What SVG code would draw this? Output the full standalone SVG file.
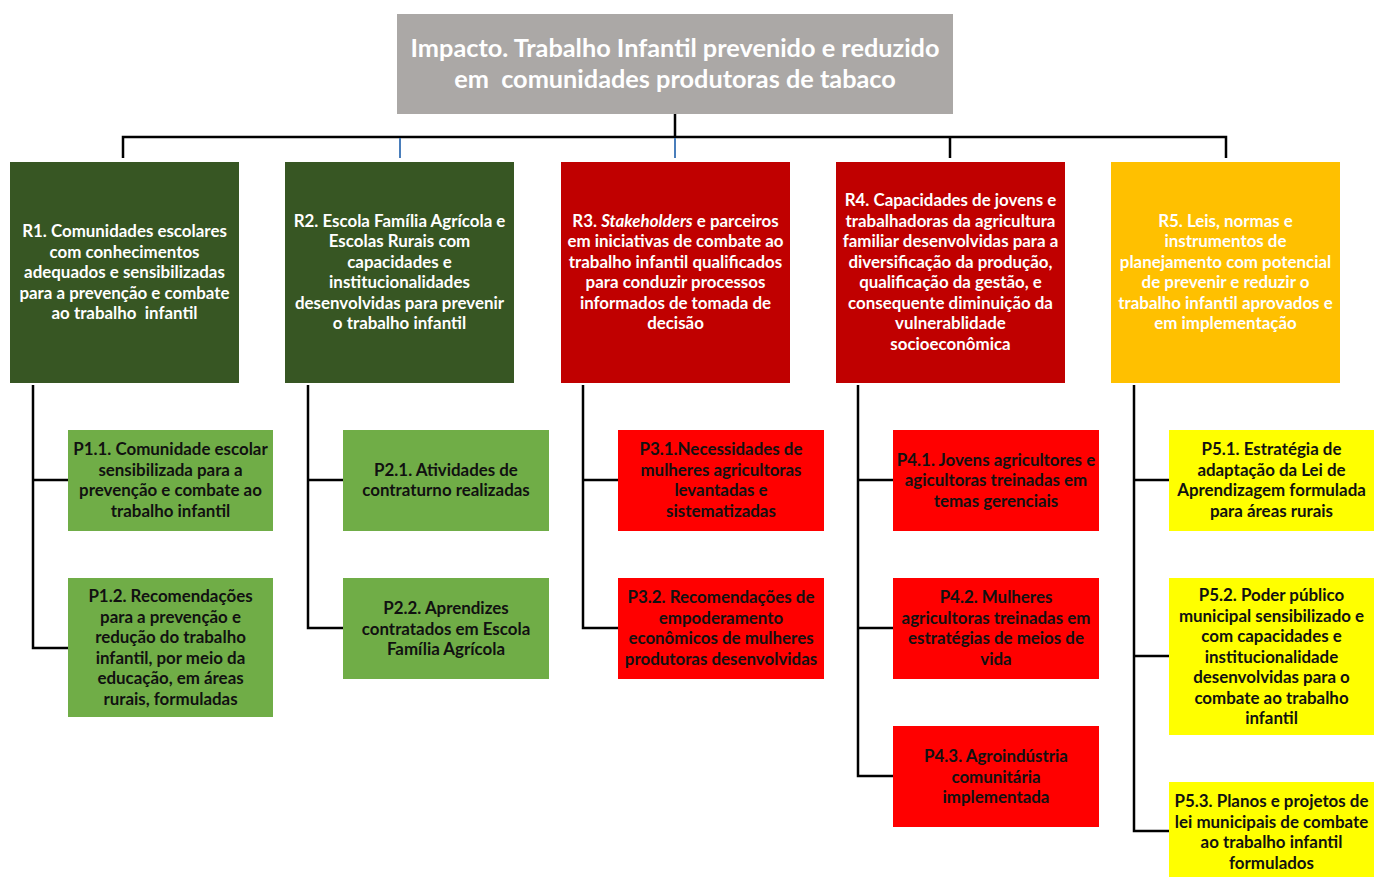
<svg xmlns="http://www.w3.org/2000/svg" width="1374" height="877" viewBox="0 0 1374 877">
  <style>
    text { font-family: Lato, "Liberation Sans", Arial, sans-serif; font-weight: bold; font-size: 16.9px; text-anchor: middle; }
    .title { font-size: 25.3px; fill: #ffffff; }
    .light { fill: #ffffff; }
    .dark { fill: #111111; }
    .grey { fill: #ABA8A6; }
    .dgreen { fill: #375623; }
    .lgreen { fill: #70AD47; }
    .dred { fill: #C00000; }
    .red { fill: #FF0000; }
    .orange { fill: #FFC000; }
    .yellow { fill: #FFFF00; }
    .wire { stroke: #000000; stroke-width: 2.5; fill: none; }
    .stub { stroke: #4A7EBB; stroke-width: 2; fill: none; }
  </style>

  <!-- connectors -->
  <g id="connectors">
    <path class="wire" d="M675 114 V137 M123 158 V137 H1226 V158 M950 137 V158"/>
    <path class="stub" d="M400 138 V158 M675 138 V158"/>
    <path class="wire" d="M33 385 V648 H68 M33 480 H68"/>
    <path class="wire" d="M308 385 V628 H343 M308 480 H343"/>
    <path class="wire" d="M583 385 V628 H618 M583 480 H618"/>
    <path class="wire" d="M858 385 V776 H893 M858 480 H893 M858 628 H893"/>
    <path class="wire" d="M1134 385 V831 H1169 M1134 480 H1169 M1134 656 H1169"/>
  </g>

  <!-- impact -->
  <g id="impact">
    <rect class="grey" x="397" y="14" width="556" height="100"/>
    <text class="title"><tspan x="675" y="57">Impacto. Trabalho Infantil prevenido e reduzido</tspan><tspan x="675" y="88">em&#160; comunidades produtoras de tabaco</tspan></text>
  </g>

  <!-- results -->
  <g id="r1">
    <rect class="dgreen" x="10" y="162" width="229" height="221"/>
    <text class="light"><tspan x="124.5" y="237">R1. Comunidades escolares</tspan><tspan x="124.5" y="257.5">com conhecimentos</tspan><tspan x="124.5" y="278">adequados e sensibilizadas</tspan><tspan x="124.5" y="298.5">para a prevenção e combate</tspan><tspan x="124.5" y="319">ao trabalho&#160; infantil</tspan></text>
  </g>
  <g id="r2">
    <rect class="dgreen" x="285" y="162" width="229" height="221"/>
    <text class="light"><tspan x="399.5" y="226.5">R2. Escola Família Agrícola e</tspan><tspan x="399.5" y="247">Escolas Rurais com</tspan><tspan x="399.5" y="267.5">capacidades e</tspan><tspan x="399.5" y="288">institucionalidades</tspan><tspan x="399.5" y="308.5">desenvolvidas para prevenir</tspan><tspan x="399.5" y="329">o trabalho infantil</tspan></text>
  </g>
  <g id="r3">
    <rect class="dred" x="561" y="162" width="229" height="221"/>
    <text class="light"><tspan x="675.5" y="226.5">R3. <tspan font-style="italic">Stakeholders</tspan> e parceiros</tspan><tspan x="675.5" y="247">em iniciativas de combate ao</tspan><tspan x="675.5" y="267.5">trabalho infantil qualificados</tspan><tspan x="675.5" y="288">para conduzir processos</tspan><tspan x="675.5" y="308.5">informados de tomada de</tspan><tspan x="675.5" y="329">decisão</tspan></text>
  </g>
  <g id="r4">
    <rect class="dred" x="836" y="162" width="229" height="221"/>
    <text class="light"><tspan x="950.5" y="206">R4. Capacidades de jovens e</tspan><tspan x="950.5" y="226.5">trabalhadoras da agricultura</tspan><tspan x="950.5" y="247">familiar desenvolvidas para a</tspan><tspan x="950.5" y="267.5">diversificação da produção,</tspan><tspan x="950.5" y="288">qualificação da gestão, e</tspan><tspan x="950.5" y="308.5">consequente diminuição da</tspan><tspan x="950.5" y="329">vulnerablidade</tspan><tspan x="950.5" y="349.5">socioeconômica</tspan></text>
  </g>
  <g id="r5">
    <rect class="orange" x="1111" y="162" width="229" height="221"/>
    <text class="light"><tspan x="1225.5" y="226.5">R5. Leis, normas e</tspan><tspan x="1225.5" y="247">instrumentos de</tspan><tspan x="1225.5" y="267.5">planejamento com potencial</tspan><tspan x="1225.5" y="288">de prevenir e reduzir o</tspan><tspan x="1225.5" y="308.5">trabalho infantil aprovados e</tspan><tspan x="1225.5" y="329">em implementação</tspan></text>
  </g>

  <!-- products -->
  <g id="p1-1">
    <rect class="lgreen" x="68" y="430" width="205" height="101"/>
    <text class="dark"><tspan x="170.5" y="455">P1.1. Comunidade escolar</tspan><tspan x="170.5" y="475.5">sensibilizada para a</tspan><tspan x="170.5" y="496">prevenção e combate ao</tspan><tspan x="170.5" y="516.5">trabalho infantil</tspan></text>
  </g>
  <g id="p1-2">
    <rect class="lgreen" x="68" y="578" width="205" height="139"/>
    <text class="dark"><tspan x="170.5" y="602">P1.2. Recomendações</tspan><tspan x="170.5" y="622.5">para a prevenção e</tspan><tspan x="170.5" y="643">redução do trabalho</tspan><tspan x="170.5" y="663.5">infantil, por meio da</tspan><tspan x="170.5" y="684">educação, em áreas</tspan><tspan x="170.5" y="704.5">rurais, formuladas</tspan></text>
  </g>
  <g id="p2-1">
    <rect class="lgreen" x="343" y="430" width="206" height="101"/>
    <text class="dark"><tspan x="446" y="475.5">P2.1. Atividades de</tspan><tspan x="446" y="496">contraturno realizadas</tspan></text>
  </g>
  <g id="p2-2">
    <rect class="lgreen" x="343" y="578" width="206" height="101"/>
    <text class="dark"><tspan x="446" y="614">P2.2. Aprendizes</tspan><tspan x="446" y="634.5">contratados em Escola</tspan><tspan x="446" y="655">Família Agrícola</tspan></text>
  </g>
  <g id="p3-1">
    <rect class="red" x="618" y="430" width="206" height="101"/>
    <text class="dark"><tspan x="721" y="455">P3.1.Necessidades de</tspan><tspan x="721" y="475.5">mulheres agricultoras</tspan><tspan x="721" y="496">levantadas e</tspan><tspan x="721" y="516.5">sistematizadas</tspan></text>
  </g>
  <g id="p3-2">
    <rect class="red" x="618" y="578" width="206" height="101"/>
    <text class="dark"><tspan x="721" y="603">P3.2. Recomendações de</tspan><tspan x="721" y="623.5">empoderamento</tspan><tspan x="721" y="644">econômicos de mulheres</tspan><tspan x="721" y="664.5">produtoras desenvolvidas</tspan></text>
  </g>
  <g id="p4-1">
    <rect class="red" x="893" y="430" width="206" height="101"/>
    <text class="dark"><tspan x="996" y="465.5">P4.1. Jovens agricultores e</tspan><tspan x="996" y="486">agicultoras treinadas em</tspan><tspan x="996" y="506.5">temas gerenciais</tspan></text>
  </g>
  <g id="p4-2">
    <rect class="red" x="893" y="578" width="206" height="101"/>
    <text class="dark"><tspan x="996" y="603">P4.2. Mulheres</tspan><tspan x="996" y="623.5">agricultoras treinadas em</tspan><tspan x="996" y="644">estratégias de meios de</tspan><tspan x="996" y="664.5">vida</tspan></text>
  </g>
  <g id="p4-3">
    <rect class="red" x="893" y="726" width="206" height="101"/>
    <text class="dark"><tspan x="996" y="762">P4.3. Agroindústria</tspan><tspan x="996" y="782.5">comunitária</tspan><tspan x="996" y="803">implementada</tspan></text>
  </g>
  <g id="p5-1">
    <rect class="yellow" x="1169" y="430" width="205" height="101"/>
    <text class="dark"><tspan x="1271.5" y="455">P5.1. Estratégia de</tspan><tspan x="1271.5" y="475.5">adaptação da Lei de</tspan><tspan x="1271.5" y="496">Aprendizagem formulada</tspan><tspan x="1271.5" y="516.5">para áreas rurais</tspan></text>
  </g>
  <g id="p5-2">
    <rect class="yellow" x="1169" y="578" width="205" height="157"/>
    <text class="dark"><tspan x="1271.5" y="601">P5.2. Poder público</tspan><tspan x="1271.5" y="621.5">municipal sensibilizado e</tspan><tspan x="1271.5" y="642">com capacidades e</tspan><tspan x="1271.5" y="662.5">institucionalidade</tspan><tspan x="1271.5" y="683">desenvolvidas para o</tspan><tspan x="1271.5" y="703.5">combate ao trabalho</tspan><tspan x="1271.5" y="724">infantil</tspan></text>
  </g>
  <g id="p5-3">
    <rect class="yellow" x="1169" y="782" width="205" height="100"/>
    <text class="dark"><tspan x="1271.5" y="807">P5.3. Planos e projetos de</tspan><tspan x="1271.5" y="827.5">lei municipais de combate</tspan><tspan x="1271.5" y="848">ao trabalho infantil</tspan><tspan x="1271.5" y="868.5">formulados</tspan></text>
  </g>
</svg>
